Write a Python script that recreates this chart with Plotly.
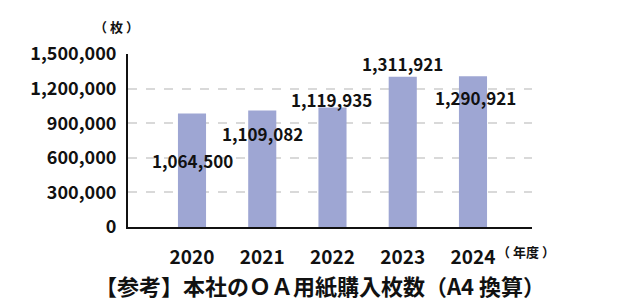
import plotly.graph_objects as go

years = ["2020", "2021", "2022", "2023", "2024"]
bar_values = [984000, 1011000, 1037000, 1302000, 1308000]
label_texts = ["1,064,500", "1,109,082", "1,119,935", "1,311,921", "1,290,921"]
y_ticks = [0, 300000, 600000, 900000, 1200000, 1500000]
y_tick_text = ["0", "300,000", "600,000", "900,000", "1,200,000", "1,500,000"]

# label placement (x offset in category units, y in data units)
label_pos_x = [0.0, 0.0, -0.01, 0.0, 0.04]
label_pos_y = [578000, 810000, 1103000, 1422000, 1120000]

FONT = "Noto Sans CJK JP"
xs = list(range(len(years)))

W, H = 641, 305
l, r, t, b = 128, 109, 54, 78
pw, ph = W - l - r, H - t - b

fig = go.Figure()
fig.add_trace(go.Bar(
    x=xs, y=bar_values, width=0.4,
    marker=dict(color="#9ea6d3", line=dict(width=0)),
    hoverinfo="skip",
))

for i, txt in enumerate(label_texts):
    fig.add_annotation(
        x=xs[i] + label_pos_x[i], y=label_pos_y[i], text=txt, showarrow=False,
        xref="x", yref="y",
        font=dict(family=FONT, size=17, color="#111111", weight="bold"),
        xanchor="center", yanchor="middle",
    )

fig.update_layout(
    width=W, height=H,
    margin=dict(l=l, r=r, t=t, b=b),
    plot_bgcolor="white", paper_bgcolor="white",
    showlegend=False,
    xaxis=dict(
        range=[-0.911, 4.84],
        tickmode="array", tickvals=xs, ticktext=years,
        showgrid=False, zeroline=False,
        showline=True, linecolor="#111111", linewidth=2,
        ticks="", ticklabelstandoff=12,
        tickfont=dict(family=FONT, size=19, color="#111111", weight="bold"),
    ),
    yaxis=dict(
        range=[0, 1500000],
        tickmode="array", tickvals=y_ticks, ticktext=y_tick_text,
        showgrid=True, gridcolor="#d9d9d9", gridwidth=2, griddash="dash",
        zeroline=False,
        showline=True, linecolor="#111111", linewidth=2,
        ticks="", ticklabelstandoff=6,
        tickfont=dict(family=FONT, size=18, color="#111111", weight="bold"),
    ),
)

def px(xp, yp):
    return (xp - l) / pw, (H - b - yp) / ph

for text, (xp, yp), size in [
    ("（ 枚 ）", (116, 26), 13),
    ("（ 年度 ）", (526, 251), 13),
    ("【参考】本社のＯＡ用紙購入枚数（A4 換算）", (320, 285), 22),
]:
    ax, ay = px(xp, yp)
    fig.add_annotation(
        x=ax, y=ay, xref="paper", yref="paper", text=text, showarrow=False,
        xanchor="center", yanchor="middle",
        font=dict(family=FONT, size=size, color="#111111", weight="bold"),
    )

fig.write_html("out.html")
